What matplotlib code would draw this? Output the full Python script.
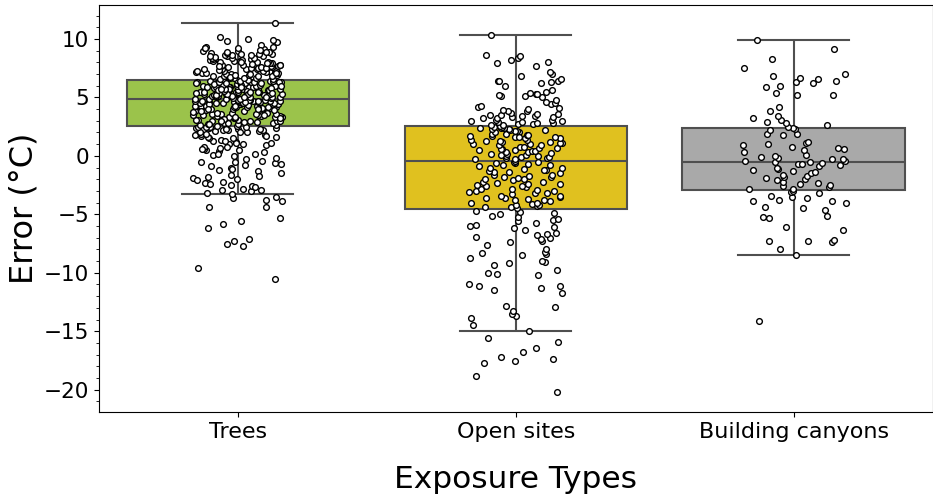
import numpy as np
import pandas as pd
import matplotlib
matplotlib.use("Agg")
import matplotlib.pyplot as plt
import seaborn as sns
from matplotlib.ticker import MultipleLocator

# exposure categories and box colours
categories = ["Trees", "Open sites", "Building canyons"]
colors = ["#9BC34B", "#E0C11F", "#A9A9A9"]

# error values (°C), per category
trees = [
    -10.5, -9.6, -7.7, -7.5, -7.3, -7.1, -6.2, -5.8, -5.6, -5.3,
    -4.4, -4.4, -3.9, -3.8, -3.6, -3.5,
    -3.3, -3.0, -2.9, -2.9, -2.8, -2.6, -2.5, -2.3, -2.2, -2.0,
    -1.9, -1.8, -1.6, -1.5,
    -1.3, -1.2, -1.0, -0.9, -0.8, -0.7, -0.6, -0.5, -0.4, -0.3, -0.2,
    0.0, 0.1, 0.2, 0.3, 0.4, 0.5, 0.5, 0.6, 0.7, 0.8, 0.9, 1.0, 1.0, 1.1, 1.2,
    1.3, 1.4, 1.5, 1.6, 1.7, 1.8, 1.8, 1.9, 2.0, 2.0,
    2.1, 2.2, 2.2, 2.3, 2.3, 2.4, 2.4, 2.5, 2.5,
    -3.2, -2.7, -2.4, -2.1, -1.7, -1.1, -0.5, 0.2, 0.6, 0.8,
    1.1, 1.3, 1.5, 1.6, 1.7, 1.9, 2.0, 2.1, 2.2, 2.3,
    2.4, 2.45, 2.5, 2.55, 2.55,
    2.6, 2.65, 2.7, 2.7, 2.8, 2.8, 2.9, 2.9, 3.0, 3.0,
    3.0, 3.05, 3.1, 3.1, 3.2, 3.2, 3.3, 3.3, 3.3, 3.4,
    3.4, 3.45, 3.5, 3.5, 3.5, 3.6, 3.6, 3.6, 3.7, 3.7,
    3.7, 3.8, 3.8, 3.8, 3.9, 3.9, 3.9, 4.0, 4.0, 4.0,
    4.0, 4.1, 4.1, 4.1, 4.1, 4.2, 4.2, 4.2, 4.2, 4.3,
    4.3, 4.3, 4.3, 4.4, 4.4, 4.4, 4.4, 4.5, 4.5, 4.5,
    4.5, 4.5, 4.6, 4.6, 4.6, 4.6, 4.6, 4.7, 4.7, 4.7,
    4.7, 4.7, 4.75, 4.8, 4.8,
    2.75, 2.85, 2.95, 3.15, 3.25, 3.35, 3.55, 3.65, 3.75, 3.85,
    3.95, 4.05, 4.15, 4.25, 4.35, 4.45, 4.55, 4.65, 4.72, 4.78,
    3.0, 3.5, 4.0, 4.3, 4.6,
    4.85, 4.9, 4.9, 4.95, 5.0, 5.0, 5.0, 5.05, 5.1, 5.1,
    5.1, 5.15, 5.2, 5.2, 5.2, 5.25, 5.3, 5.3, 5.3, 5.4,
    5.4, 5.4, 5.45, 5.5, 5.5, 5.5, 5.6, 5.6, 5.6, 5.65,
    5.7, 5.7, 5.7, 5.8, 5.8, 5.8, 5.85, 5.9, 5.9, 5.9,
    6.0, 6.0, 6.0, 6.05, 6.1, 6.1, 6.1, 6.2, 6.2, 6.2,
    6.25, 6.3, 6.3, 6.3, 6.35, 6.4, 6.4, 6.4, 6.45, 6.5,
    5.35, 5.55, 5.75, 5.95, 6.15,
    4.88, 5.08, 5.28, 5.48, 5.68, 5.88, 6.08, 6.28, 6.42, 6.48,
    4.92, 5.02, 5.12, 5.22, 5.32, 5.42, 5.52, 5.62, 5.72, 5.82,
    5.92, 6.02, 6.12, 6.22, 6.32, 6.38, 6.44, 5.5, 5.0, 5.7,
    6.0, 6.2, 6.3, 5.4, 5.9,
    6.6, 6.6, 6.7, 6.7, 6.7, 6.8, 6.8, 6.8, 6.9, 6.9,
    6.9, 7.0, 7.0, 7.0, 7.1, 7.1, 7.1, 7.2, 7.2, 7.2,
    7.3, 7.3, 7.3, 7.4, 7.4, 7.4, 7.5, 7.5, 7.5, 7.6,
    7.6, 7.6, 7.7, 7.7, 7.7, 7.8, 7.8, 7.8, 7.9, 7.9,
    8.0, 8.0, 8.0, 8.1, 8.1, 8.2, 8.2, 8.3, 8.3, 8.4,
    8.4, 8.5, 8.5, 8.6, 8.6, 8.7, 8.7, 8.8, 8.8, 8.9,
    8.9, 9.0, 9.0, 9.1, 9.2, 9.2, 9.3, 9.3, 9.5, 9.7,
    9.8, 9.9, 10.0, 10.2, 11.4,
    6.65, 6.75, 6.85, 6.95, 7.05, 7.15, 7.25, 7.35, 7.45, 7.55,
    7.65, 7.75, 7.85, 7.95, 8.05, 8.15, 8.25, 8.35, 8.45, 8.55,
    8.65, 8.75, 8.85, 9.05, 9.25,
]

open_sites = [
    -20.2, -18.8, -17.7, -17.5, -17.4, -17.2, -16.8, -16.4, -15.9, -15.6,
    -15.0, -14.5, -13.9, -13.7, -13.5, -13.3,
    -12.9, -12.8, -11.7, -11.5, -11.3, -11.1, -11.1, -11.0, -10.2, -10.1,
    -10.0, -9.8, -9.3, -9.2, -9.1, -9.0, -8.7, -8.5, -8.4, -8.3,
    -8.2, -8.0, -7.6, -7.4, -7.3, -7.1, -7.0, -6.9, -6.8, -6.7,
    -6.6, -6.3, -6.2, -6.1, -6.0, -5.9, -5.7, -5.6, -5.5, -5.4,
    -5.2, -5.1, -5.0, -4.9, -4.8, -4.7,
    -4.5, -4.4, -4.4, -4.3, -4.2, -4.2, -4.1, -4.0, -4.0, -3.9,
    -3.8, -3.8, -3.7, -3.6, -3.6, -3.5, -3.4, -3.4, -3.3, -3.2,
    -3.2, -3.1, -3.0, -3.0, -2.9, -2.8, -2.8, -2.7, -2.6, -2.6,
    -2.5, -2.4, -2.4, -2.3, -2.2, -2.2, -2.1, -2.0, -2.0, -1.9,
    -1.8, -1.8, -1.7, -1.6, -1.6, -1.5, -1.4, -1.4, -1.3, -1.2,
    -1.2, -1.1, -1.0, -1.0, -0.9, -0.8, -0.8, -0.7, -0.6, -0.6,
    -0.55, -0.5,
    -0.4, -0.3, -0.3, -0.2, -0.2, -0.1, -0.1, 0.0, 0.0, 0.1,
    0.1, 0.2, 0.2, 0.3, 0.3, 0.4, 0.4, 0.5, 0.5, 0.6,
    0.6, 0.7, 0.7, 0.8, 0.8, 0.9, 0.9, 1.0, 1.0, 1.1,
    1.1, 1.2, 1.2, 1.3, 1.3, 1.4, 1.4, 1.5, 1.5, 1.6,
    1.6, 1.7, 1.7, 1.8, 1.8, 1.9, 1.9, 2.0, 2.0, 2.1,
    2.1, 2.2, 2.2, 2.3, 2.3, 2.35, 2.4, 2.4, 2.45, 2.5,
    0.25, 1.65,
    2.55, 2.6, 2.6, 2.7, 2.7, 2.8, 2.8, 2.9, 2.9, 3.0,
    3.0, 3.1, 3.1, 3.2, 3.2, 3.3, 3.3, 3.4, 3.4, 3.5,
    3.5, 3.6, 3.6, 3.7, 3.8, 3.8, 3.9, 4.0, 4.1, 4.2,
    4.3, 4.4, 4.5, 4.6, 4.8, 5.0, 5.1, 5.1, 5.2, 5.3,
    5.3, 5.4, 5.5, 5.6, 6.0, 6.2, 6.3, 6.4, 6.4, 6.4,
    6.6, 6.8, 7.0, 7.2, 7.7, 7.9, 8.0, 8.2, 8.4, 8.5,
    8.6, 10.3,
]

building_canyons = [
    -14.1, -8.5, -8.0, -7.4, -7.3, -7.3, -7.2, -6.3, -6.1, -5.3,
    -5.2, -5.1, -4.6, -4.5, -4.4, -4.0, -3.9, -3.9, -3.8, -3.6,
    -3.5, -3.4, -3.2, -3.1, -3.0,
    -2.85, -2.8, -2.7, -2.6, -2.5, -2.4, -2.3, -2.2, -2.1, -2.0,
    -1.9, -1.8, -1.7, -1.6, -1.5, -1.4, -1.3, -1.2, -1.1, -1.0,
    -0.9, -0.8, -0.7, -0.7, -0.6,
    -0.5, -0.5, -0.4, -0.4, -0.3, -0.3, -0.2, -0.1, 0.0, 0.1,
    0.3, 0.5, 0.6, 0.7, 0.8, 0.9, 1.0, 1.1, 1.2, 1.8,
    1.9, 1.9, 2.2, 2.3, 2.4,
    2.5, 2.6, 2.8, 2.9, 3.1, 3.2, 3.4, 3.8, 4.2, 5.2,
    5.2, 5.4, 5.9, 6.0, 6.2, 6.3, 6.4, 6.6, 6.7, 6.8,
    7.0, 7.5, 8.3, 9.1, 9.9,
]

groups = [trees, open_sites, building_canyons]
spread = [0.16, 0.17, 0.19]  # half-width of the jitter per category

df = pd.DataFrame({
    "exposure": np.repeat(categories, [len(g) for g in groups]),
    "error": trees + open_sites + building_canyons,
})

fig, ax = plt.subplots(figsize=(9.33, 5.03), dpi=100)
fig.subplots_adjust(left=0.106, right=0.9995, top=0.99, bottom=0.181)

sns.boxplot(data=df, x="exposure", y="error", order=categories,
            hue="exposure", hue_order=categories, palette=colors,
            saturation=1, legend=False, showfliers=False, width=0.8,
            linecolor="#4f4f4f", linewidth=1.5, ax=ax)

# overlay the raw points, deterministic hash jitter (no rng)
for i, vals in enumerate(groups):
    k = np.arange(len(vals)) + 1.0 + 100 * i
    u = (np.sin(k * 12.9898) * 43758.5453) % 1.0
    ax.scatter(i + (u - 0.5) * 2 * spread[i], vals, s=17, facecolor="white",
               edgecolor="black", linewidth=1.0, zorder=3)

ax.set_xlim(-0.5, 2.5)
ax.set_ylim(-21.9, 12.9)
ax.yaxis.set_major_locator(MultipleLocator(5))
ax.yaxis.set_minor_locator(MultipleLocator(1))
ax.tick_params(axis="x", labelsize=16)
ax.tick_params(axis="y", labelsize=15.5)
ax.set_xlabel("Exposure Types", fontsize=22.5, labelpad=17)
ax.set_ylabel("Error (°C)", fontsize=23, labelpad=3)

fig.savefig("out.png", dpi=100)
